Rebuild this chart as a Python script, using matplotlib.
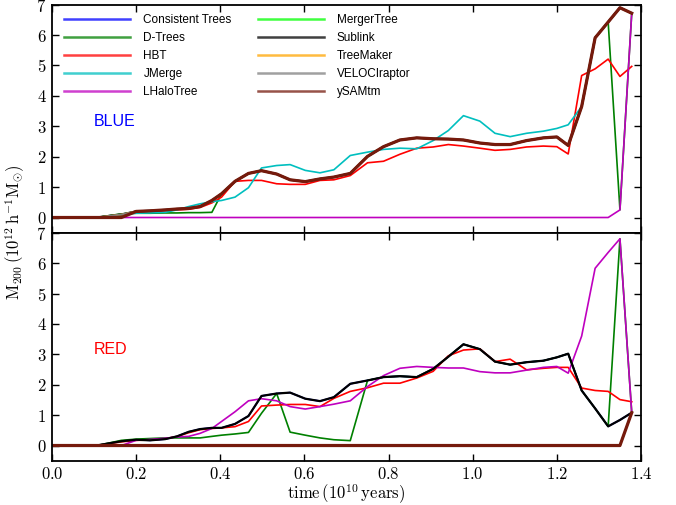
import matplotlib
matplotlib.use("Agg")
import matplotlib.pyplot as plt
from matplotlib.ticker import FuncFormatter

plt.rcParams['mathtext.fontset'] = 'cm'
plt.rcParams['font.family'] = ['Liberation Sans', 'DejaVu Sans']

# ---------------- data ----------------
time = [0.0, 0.106, 0.135, 0.165, 0.200, 0.233, 0.269, 0.297, 0.325, 0.352,
        0.380, 0.403, 0.435, 0.467, 0.498, 0.534, 0.566, 0.602, 0.637, 0.670,
        0.709, 0.750, 0.788, 0.827, 0.867, 0.906, 0.942, 0.978, 1.017, 1.053,
        1.089, 1.128, 1.168, 1.200, 1.227, 1.259, 1.291, 1.322, 1.350, 1.378]

tree_names = ["Consistent Trees", "D-Trees", "HBT", "JMerge", "LHaloTree",
              "MergerTree", "Sublink", "TreeMaker", "VELOCIraptor", "ySAMtm"]
tree_colors = ["#0000ff", "#008000", "#ff0000", "#00bfbf", "#bf00bf",
               "#00ff00", "#000000", "#ffa500", "#808080", "#751a0c"]

# BLUE halo
blue_main = [0, 0, 0.05, 0.10, 0.20, 0.22, 0.25, 0.28, 0.30, 0.36,
             0.56, 0.78, 1.19, 1.45, 1.54, 1.43, 1.24, 1.18, 1.27, 1.33,
             1.45, 2.01, 2.33, 2.55, 2.62, 2.59, 2.58, 2.55, 2.45, 2.40,
             2.40, 2.53, 2.62, 2.65, 2.37, 3.65, 5.91, 6.43, 6.90, 6.72]
blue_ysamtm = [0, 0, 0, 0, 0.20, 0.22, 0.25, 0.28, 0.30, 0.36,
               0.56, 0.78, 1.19, 1.45, 1.54, 1.43, 1.24, 1.18, 1.27, 1.33,
               1.45, 2.01, 2.33, 2.55, 2.62, 2.59, 2.58, 2.55, 2.45, 2.40,
               2.40, 2.53, 2.62, 2.65, 2.37, 3.65, 5.91, 6.43, 6.90, 6.72]
blue_dtrees = [0, 0, 0.06, 0.12, 0.14, 0.14, 0.15, 0.15, 0.16, 0.16,
               0.17, 0.78, 1.19, 1.45, 1.54, 1.43, 1.24, 1.18, 1.27, 1.33,
               1.45, 2.01, 2.33, 2.55, 2.62, 2.59, 2.58, 2.55, 2.45, 2.40,
               2.40, 2.53, 2.62, 2.65, 2.37, 3.65, 5.91, 6.43, 0.25, 6.72]
blue_hbt = [0, 0, 0.04, 0.09, 0.17, 0.20, 0.22, 0.25, 0.27, 0.33,
            0.48, 0.67, 1.19, 1.22, 1.22, 1.11, 1.09, 1.09, 1.22, 1.24,
            1.38, 1.80, 1.85, 2.08, 2.28, 2.32, 2.40, 2.35, 2.28, 2.21,
            2.24, 2.32, 2.35, 2.33, 2.09, 4.67, 4.89, 5.21, 4.64, 4.97]
blue_jmerge = [0, 0, 0.05, 0.10, 0.14, 0.15, 0.17, 0.25, 0.36, 0.45,
               0.52, 0.56, 0.67, 0.98, 1.63, 1.71, 1.74, 1.55, 1.47, 1.57,
               2.04, 2.15, 2.24, 2.28, 2.26, 2.53, 2.86, 3.35, 3.17, 2.77,
               2.66, 2.77, 2.84, 2.93, 3.05, 3.65, 5.91, 6.43, 6.90, 6.72]
blue_lhalo = [0, 0, 0, 0, 0, 0, 0, 0, 0, 0,
              0, 0, 0, 0, 0, 0, 0, 0, 0, 0,
              0, 0, 0, 0, 0, 0, 0, 0, 0, 0,
              0, 0, 0, 0, 0, 0, 0, 0, 0.25, 6.72]

# RED halo
red_main = [0, 0, 0.07, 0.14, 0.19, 0.17, 0.21, 0.30, 0.45, 0.54,
            0.58, 0.58, 0.71, 0.97, 1.63, 1.71, 1.74, 1.54, 1.46, 1.59,
            2.03, 2.14, 2.25, 2.28, 2.25, 2.52, 2.92, 3.33, 3.17, 2.76,
            2.66, 2.74, 2.79, 2.90, 3.02, 1.81, 1.22, 0.63, 0.84, 1.08]
red_dtrees = [0, 0, 0.08, 0.17, 0.21, 0.23, 0.25, 0.25, 0.25, 0.25,
              0.30, 0.34, 0.38, 0.43, 1.06, 1.71, 0.44, 0.34, 0.25, 0.19,
              0.16, 2.14, 2.25, 2.28, 2.25, 2.52, 2.92, 3.33, 3.17, 2.76,
              2.66, 2.74, 2.79, 2.90, 3.02, 1.81, 1.22, 0.63, 6.80, 1.08]
red_hbt = [0, 0, 0.06, 0.12, 0.17, 0.18, 0.22, 0.30, 0.42, 0.52,
           0.56, 0.58, 0.62, 0.79, 1.30, 1.33, 1.35, 1.35, 1.28, 1.55,
           1.78, 1.90, 2.05, 2.05, 2.22, 2.44, 2.95, 3.14, 3.18, 2.76,
           2.84, 2.49, 2.54, 2.57, 2.57, 1.89, 1.81, 1.78, 1.51, 1.44]
red_lhalo = [0, 0, 0, 0, 0.17, 0.20, 0.24, 0.28, 0.30, 0.40,
             0.56, 0.79, 1.11, 1.47, 1.54, 1.47, 1.28, 1.20, 1.28, 1.36,
             1.47, 1.94, 2.30, 2.54, 2.60, 2.57, 2.55, 2.55, 2.43, 2.39,
             2.39, 2.48, 2.57, 2.60, 2.38, 3.60, 5.83, 6.35, 6.80, 1.08]
red_zero = [0, 0, 0, 0, 0, 0, 0, 0, 0, 0,
            0, 0, 0, 0, 0, 0, 0, 0, 0, 0,
            0, 0, 0, 0, 0, 0, 0, 0, 0, 0,
            0, 0, 0, 0, 0, 0, 0, 0, 0, 1.08]

blue_series = [blue_main, blue_dtrees, blue_hbt, blue_jmerge, blue_lhalo,
               blue_main, blue_main, blue_main, blue_main, blue_ysamtm]
red_series = [red_main, red_dtrees, red_hbt, red_zero, red_lhalo,
              red_zero, red_main, red_zero, red_zero, red_zero]
tree_widths = [1.2, 1.2, 1.2, 1.2, 1.2, 1.2, 1.6, 1.2, 1.2, 2.3]

xticks = [0.0, 0.2, 0.4, 0.6, 0.8, 1.0, 1.2, 1.4]
yticks = [0, 1, 2, 3, 4, 5, 6, 7]

# ---------------- figure ----------------
fig = plt.figure(figsize=(6.76, 5.05), dpi=100)
gs = fig.add_gridspec(2, 1, left=0.0769, right=0.9482, top=0.9907,
                      bottom=0.0877, hspace=0)
ax1 = fig.add_subplot(gs[0])
ax2 = fig.add_subplot(gs[1], sharex=ax1)

for ax, series in ((ax1, blue_series), (ax2, red_series)):
    for name, col, lw, vals in zip(tree_names, tree_colors, tree_widths, series):
        ax.plot(time, vals, color=col, lw=lw, label=name)
    ax.set_xlim(0, 1.4)
    ax.set_ylim(-0.5, 7)
    ax.set_yticks(yticks)
    ax.set_xticks(xticks)
    ax.tick_params(direction='in', top=True, right=True, length=5,
                   width=1, labelsize=12, pad=4)
    ax.yaxis.set_major_formatter(FuncFormatter(lambda v, p: r'$%d$' % v))
    ax.xaxis.set_major_formatter(FuncFormatter(lambda v, p: r'$%.1f$' % v))
    for s in ax.spines.values():
        s.set_linewidth(1.3)

plt.setp(ax1.get_xticklabels(), visible=False)

ax1.text(0.1, 3.15, "BLUE", color="#0000ff", fontsize=11.5, va='center')
ax2.text(0.1, 3.15, "RED", color="#ff0000", fontsize=11.5, va='center')

handles, labels = ax1.get_legend_handles_labels()
leg = ax1.legend(handles, labels, loc='upper left', ncol=2, frameon=False,
                 fontsize=8.5, handlelength=5.6, handletextpad=1.1,
                 columnspacing=2.2, labelspacing=0.5,
                 borderaxespad=0.4, bbox_to_anchor=(0.005, 1.0))
for lh in leg.get_lines():
    lh.set_linewidth(1.8)
    lh.set_alpha(0.75)

ax2.set_xlabel(r'$\mathrm{time\,(10^{10}\,years)}$', fontsize=12, labelpad=0)
fig.text(0.022, 0.54, r'$\mathrm{M_{200}\,(10^{12}\,h^{-1}M_{\odot})}$',
         rotation=90, fontsize=12, ha='center', va='center')

fig.savefig("out.png", dpi=100)
